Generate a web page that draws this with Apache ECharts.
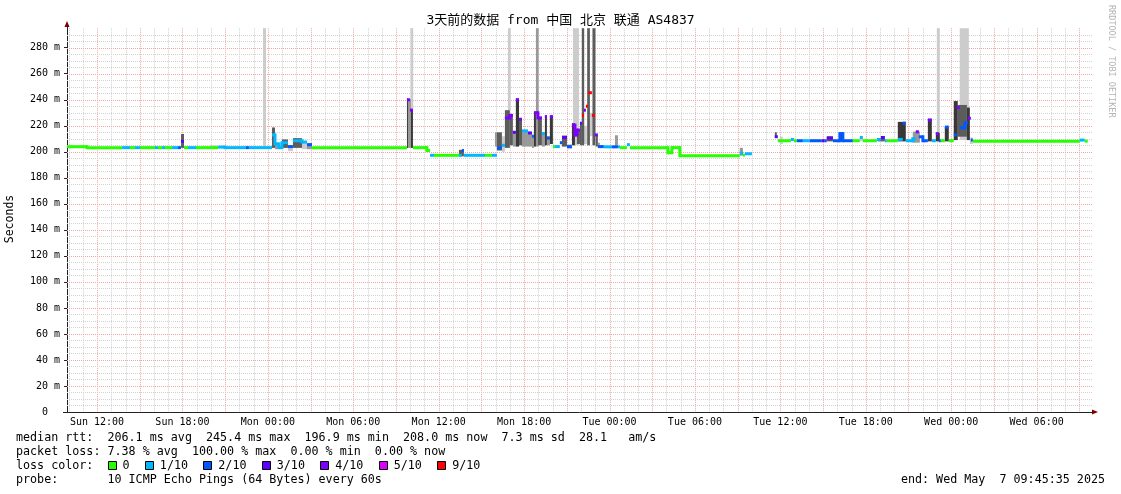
<!DOCTYPE html>
<html><head><meta charset="utf-8">
<script src="https://cdn.jsdelivr.net/npm/echarts@6/dist/echarts.min.js"></script>
<style>html,body{margin:0;padding:0;background:#fff}#c{width:1121px;height:494px}</style>
</head><body><div id="c"></div>
<script>
// ---------- data (time in hours since Sun 00:00, values in ms) ----------
const DAYS = ['Sun', 'Mon', 'Tue', 'Wed'];
const X_MIN = 9.89, X_MAX = 81.89;
const Y_MAX = 295;
const xLabelHours = [12, 18, 24, 30, 36, 42, 48, 54, 60, 66, 72, 78];

const LOSS_LEVELS = [0, 1, 2, 3, 4, 5, 9];
const LOSS_COLORS = ['#26ff00', '#00b8ff', '#0059ff', '#5e00ff', '#7e00ff', '#dd00ff', '#ff0000'];
const LOSS_LABELS = ['0', '1/10', '2/10', '3/10', '4/10', '5/10', '9/10'];

// median rtt step segments: medT[i]..medT[i+1] at medV[i], loss medL[i]
const medT = [9.89, 11.30, 13.76, 14.32, 14.67, 15.02, 16.07, 16.28, 16.57, 16.78, 17.27, 17.69, 17.90, 18.11, 18.39, 18.95, 20.50, 20.99, 22.46, 22.67, 24.29, 24.50, 24.78, 24.99, 25.41, 25.76, 26.40, 26.75, 27.10, 33.77, 33.98, 34.19, 35.17, 35.39, 35.67, 37.42, 37.63, 37.77, 39.25, 39.74, 40.09, 40.44, 40.65, 41.00, 41.21, 41.42, 41.64, 41.85, 42.27, 42.55, 42.69, 42.97, 43.25, 43.46, 43.60, 43.81, 44.02, 44.16, 44.51, 44.66, 45.01, 45.36, 45.57, 45.71, 45.92, 46.06, 46.20, 46.34, 46.48, 46.76, 46.97, 47.18, 47.60, 48.17, 48.59, 48.73, 49.22, 49.43, 52.10, 52.38, 52.94, 57.15, 57.37, 57.51, 58.00, 59.61, 59.82, 60.74, 60.95, 61.16, 61.58, 62.07, 62.91, 63.12, 63.26, 63.69, 64.18, 64.39, 65.09, 65.58, 65.79, 66.78, 67.06, 67.34, 67.48, 68.25, 68.60, 68.81, 69.30, 69.51, 69.73, 70.01, 70.36, 70.64, 70.92, 71.13, 71.27, 71.55, 71.83, 72.18, 72.39, 72.60, 72.96, 73.17, 73.38, 73.52, 81.03, 81.38, 81.59];
const medV = [203.9, 203.2, 203.2, 203.2, 203.2, 203.2, 203.2, 203.2, 203.2, 203.2,
  203.2, 203.2, 208.0, 203.2, 203.2, 203.2, 203.6, 203.2, 203.2, 203.2,
  213.0, 206.0, 203.2, 207.0, 204.0, 208.5, 207.5, 205.5, 203.2, 240.0,
  232.0, 203.2, 201.0, 197.3, 197.3, 197.3, 201.0, 197.3, 197.3, 197.3,
  203.0, 205.0, 226.0, 228.0, 215.0, 240.0, 225.0, 216.0, 214.5, 212.0,
  230.0, 226.0, 214.0, 227.0, 210.5, 227.0, 204.0, 204.0, 207.0, 211.0,
  204.0, 220.5, 213.0, 216.7, 222.0, 228.0, 232.0, 235.0, 245.4, 228.0,
  213.0, 204.0, 203.8, 203.8, 203.8, 203.2, 205.5, 203.2, 199.3, 203.2,
  197.0, 199.0, 197.5, 198.5, null, 211.6, 208.5, 209.5, 208.5, 208.5,
  208.5, 208.5, 208.5, 208.5, 210.5, 208.5, 214.0, 208.5, 208.5, 211.0,
  208.5, 209.5, 211.0, 208.5, 208.5, 209.5, 222.0, 208.5, 210.0, 215.4,
  211.5, 208.5, 224.5, 208.5, 214.0, 208.5, 208.5, 219.0, 208.5, 213.0,
  234.0, 218.5, 222.4, 225.8, 209.0, 208.2, 209.0, 208.2];
const medL = [0, 0, 1, 0, 1, 0, 1, 0, 1, 0, 1, 2, 3, 0, 1, 0, 1, 1, 2, 1,
  1, 1, 1, 1, 2, 1, 1, 2, 0, 4, 4, 0, 0, 1, 0, 1, 2, 1, 0, 1,
  2, 1, 4, 4, 3, 4, 4, 1, 3, 2, 4, 4, 1, 4, 2, 4, 0, 1, 2, 3,
  2, 4, 4, 4, 3, 9, 4, 9, 9, 9, 4, 2, 1, 2, 1, 0, 1, 0, 0, 0,
  0, 1, 0, 1, 0, 3, 0, 1, 0, 2, 1, 2, 3, 2, 3, 2, 2, 2, 0, 1,
  0, 1, 3, 1, 0, 1, 2, 1, 1, 4, 2, 2, 4, 1, 4, 2, 0, 2, 0, 2,
  4, 2, 2, 4, 2, 0, 1, 0];

// smoke (ping spread) blocks
const smkT0 = [17.90, 23.66, 24.29, 24.50, 24.99, 25.41, 25.76, 26.40, 26.75, 19.94, 33.77, 33.84, 34.05, 34.03, 37.42, 39.95, 40.09, 40.44, 40.65, 40.86, 41.00, 41.21, 41.42, 41.64, 41.85, 42.27, 42.55, 42.69, 42.83, 42.97, 43.25, 43.46, 43.60, 43.81, 44.66, 45.01, 45.36, 45.43, 45.71, 45.92, 46.06, 46.20, 46.43, 46.62, 46.80, 47.04, 47.18, 48.38, 57.15, 59.61, 59.96, 63.26, 64.18, 65.58, 66.85, 68.25, 69.30, 70.36, 70.92, 70.99, 71.55, 72.18, 72.60, 72.46, 73.10, 73.31];
const smkT1 = [18.11, 23.87, 24.50, 24.78, 25.41, 25.76, 26.40, 26.75, 27.10, 20.43, 33.84, 34.05, 34.19, 34.21, 37.77, 40.09, 40.44, 40.65, 41.00, 41.05, 41.21, 41.42, 41.64, 41.85, 42.27, 42.55, 42.69, 42.83, 43.02, 43.25, 43.46, 43.60, 43.81, 44.02, 45.01, 45.36, 45.57, 45.85, 45.92, 46.06, 46.22, 46.41, 46.62, 46.83, 47.01, 47.18, 47.32, 48.59, 57.37, 59.75, 60.17, 63.69, 64.39, 65.79, 67.34, 68.81, 69.80, 70.64, 71.20, 71.20, 71.83, 72.46, 73.24, 73.10, 73.31, 73.52];
const smkLo = [203, 204, 203, 202, 203, 200.5, 203, 202, 202, 203, 203, 203, 203, 233, 196.5, 204, 201, 200, 203, 232, 205, 204, 204, 205, 204, 204, 203, 204, 204, 205, 204, 205, 205, 206, 204, 202, 205, 205, 206, 205, 205, 206, 205, 212, 205, 204, 203, 204, 197, 211, 206, 208, 208, 208, 208, 208, 207, 208, 208, 214.5, 208, 209, 209, 211.6, 209, 206];
const smkHi = [213.7, 295, 218.7, 207, 209.5, 205, 210.5, 207.5, 206.5, 205, 241, 240.5, 233, 295, 201.5, 215, 215, 212, 232, 295, 229, 216, 241, 226, 217, 215, 212, 231, 295, 227, 215, 228, 212, 228, 212.5, 206, 222, 295, 217, 222, 295, 220, 295, 230, 295, 213, 207, 212.7, 203, 215, 211.6, 212, 214.5, 211, 210.5, 223, 215.5, 225, 214.5, 295, 219, 239, 295, 236, 234, 211];
const smkTone = [2, 0, 2, 1, 2, 0, 2, 0, 1, 0, 3, 1, 3, 0, 2, 1, 2, 0, 2, 0, 2, 1, 3, 2, 1, 1, 1, 3, 1, 2, 1, 3, 1, 3, 2, 0, 3, 0, 2, 2, 2, 0, 2, 0, 2, 2, 1, 1, 1, 2, 0, 2, 3, 0, 2, 3, 1, 3, 3, 0, 3, 3, 0, 2, 3, 0];
const SMOKE_COLORS = ['#cccccc', '#999999', '#5c5c5c', '#383838'];

// statistics shown below the graph
const RTT_STATS = [206.1, 245.4, 196.9, 208.0]; // avg, max, min, now (ms)
const RTT_SD = 7.3;
const AM_S = 28.1;
const LOSS_STATS = [7.38, 100.00, 0.00, 0.00];   // avg, max, min, now (%)
const TITLE = '3天前的数据 from 中国 北京 联通 AS4837';
const PROBE = '10 ICMP Echo Pings (64 Bytes) every 60s';
const END_TEXT = 'end: Wed May  7 09:45:35 2025';

// ---------- build ----------
const MONO = "'DejaVu Sans Mono', monospace";
const TITLE_FONT = "'DejaVu Sans Mono', 'Noto Sans CJK SC', monospace";
const MINOR = '#d2d2d2', MAJOR = '#f2a6a6';

const medData = [];
const connData = [];
for (let i = 0; i < medV.length; i++) {
  if (medV[i] == null) continue;
  const li = LOSS_LEVELS.indexOf(medL[i]);
  medData.push([medT[i], medT[i + 1], medV[i], li]);
  // short vertical step joins within the same loss class (small steps only)
  if (i + 1 < medV.length && medV[i + 1] != null && medL[i + 1] === medL[i] &&
      medV[i + 1] !== medV[i] && Math.abs(medV[i + 1] - medV[i]) < 8) {
    connData.push([medT[i + 1], Math.min(medV[i], medV[i + 1]), Math.max(medV[i], medV[i + 1]), li]);
  }
}
const smkData = smkT0.map((t, i) => [t, smkT1[i], smkLo[i], smkHi[i], smkTone[i]])
  .sort((a, b) => a[4] - b[4]);

const vGrid = [];
for (let h = Math.ceil(X_MIN); h <= X_MAX; h++) vGrid.push([h, 0, h % 3 === 0 ? 1 : 0]);
const hGrid = [];
for (let v = 5; v < Y_MAX; v += 5) hGrid.push([X_MIN, v, v % 20 === 0 ? 1 : 0]);

const f1 = v => v.toFixed(1), f2 = v => v.toFixed(2);
const line1 = `median rtt:  ${f1(RTT_STATS[0])} ms avg  ${f1(RTT_STATS[1])} ms max  ${f1(RTT_STATS[2])} ms min  ${f1(RTT_STATS[3])} ms now  ${f1(RTT_SD)} ms sd  ${f1(AM_S)}   am/s`;
const line2 = `packet loss: ${f2(LOSS_STATS[0])} % avg  ${f2(LOSS_STATS[1])} % max  ${f2(LOSS_STATS[2])} % min  ${f2(LOSS_STATS[3])} % now`;

const LEG_FONT = '11.7px ' + MONO;
const CH = 7.04;
const graphics = [
  {type: 'text', x: 560.5, y: 21, style: {text: TITLE, font: '13px ' + TITLE_FONT, fill: '#000', align: 'center', verticalAlign: 'middle'}},
  {type: 'text', x: 10, y: 219, rotation: Math.PI / 2, style: {text: 'Seconds', font: '11.5px ' + MONO, fill: '#000', align: 'center', verticalAlign: 'middle'}},
  {type: 'text', x: 1111, y: 5, rotation: -Math.PI / 2, style: {text: 'RRDTOOL / TOBI OETIKER', font: '8.5px ' + MONO, fill: '#b4b4b4', align: 'left', verticalAlign: 'middle'}},
  {type: 'text', x: 16, y: 438, style: {text: line1, font: LEG_FONT, fill: '#000', align: 'left', verticalAlign: 'middle'}},
  {type: 'text', x: 16, y: 452, style: {text: line2, font: LEG_FONT, fill: '#000', align: 'left', verticalAlign: 'middle'}},
  {type: 'text', x: 16, y: 466, style: {text: 'loss color:', font: LEG_FONT, fill: '#000', align: 'left', verticalAlign: 'middle'}},
  {type: 'text', x: 16, y: 480, style: {text: 'probe:       ' + PROBE, font: LEG_FONT, fill: '#000', align: 'left', verticalAlign: 'middle'}},
  {type: 'text', x: 1105, y: 480, style: {text: END_TEXT, font: LEG_FONT, fill: '#000', align: 'right', verticalAlign: 'middle'}},
  // axis arrows and small axis extensions
  {type: 'polygon', shape: {points: [[64.5, 27], [69.5, 27], [67, 21]]}, style: {fill: '#7f0000'}},
  {type: 'line', shape: {x1: 67.5, y1: 27, x2: 67.5, y2: 29}, style: {stroke: '#222', lineWidth: 1}},
  {type: 'line', shape: {x1: 63, y1: 412.5, x2: 68, y2: 412.5}, style: {stroke: '#222', lineWidth: 1}},
  {type: 'polygon', shape: {points: [[1092, 409.5], [1092, 414.5], [1098, 412]]}, style: {fill: '#7f0000'}}
];
let bx = 16 + 13 * CH;
LOSS_LABELS.forEach((lab, i) => {
  graphics.push({type: 'rect', shape: {x: Math.round(bx) + 0.5, y: 461.5, width: 8, height: 8}, style: {fill: LOSS_COLORS[i], stroke: '#000', lineWidth: 1}});
  graphics.push({type: 'text', x: bx + 15, y: 466, style: {text: lab, font: LEG_FONT, fill: '#000', align: 'left', verticalAlign: 'middle'}});
  bx += 15 + lab.length * CH + 15.3;
});

const chart = echarts.init(document.getElementById('c'), null, {renderer: 'canvas', width: 1121, height: 494});
chart.setOption({
  animation: false,
  backgroundColor: '#ffffff',
  grid: {left: 67, right: 29, top: 28.2, bottom: 82, containLabel: false, outerBoundsMode: 'none'},
  xAxis: {
    type: 'value', min: X_MIN, max: X_MAX,
    axisLine: {show: true, lineStyle: {color: '#222', width: 1}},
    axisTick: {show: false},
    splitLine: {show: false},
    axisLabel: {
      customValues: xLabelHours, margin: 5, color: '#000', fontSize: 10, fontFamily: MONO,
      formatter: v => DAYS[Math.floor(v / 24)] + ' ' + String(v % 24).padStart(2, '0') + ':00'
    }
  },
  yAxis: {
    type: 'value', min: 0, max: Y_MAX, interval: 20,
    axisLine: {show: true, lineStyle: {color: '#222', width: 1}},
    axisTick: {show: true, length: 3, lineStyle: {color: '#222'}},
    splitLine: {show: false},
    axisLabel: {
      showMaxLabel: false, margin: 7, color: '#000', fontSize: 10, fontFamily: MONO,
      formatter: v => v === 0 ? '0  ' : v + ' m'
    }
  },
  graphic: graphics,
  series: [
    {
      type: 'custom', name: 'vgrid', silent: true, z: 1, data: vGrid, encode: {x: 0, y: 1},
      renderItem: (p, api) => {
        const a = api.coord([api.value(0), 0]), b = api.coord([api.value(0), Y_MAX]);
        const x = Math.round(a[0]) + 0.5;
        return {type: 'line', shape: {x1: x, y1: b[1], x2: x, y2: a[1]},
          style: {stroke: api.value(2) ? MAJOR : MINOR, lineWidth: 1, lineDash: [1, 1]}};
      }
    },
    {
      type: 'custom', name: 'hgrid', silent: true, z: 1, data: hGrid, encode: {x: 0, y: 1},
      renderItem: (p, api) => {
        const a = api.coord([X_MIN, api.value(1)]), b = api.coord([X_MAX, api.value(1)]);
        const y = Math.round(a[1]) + 0.5;
        return {type: 'line', shape: {x1: a[0], y1: y, x2: b[0], y2: y},
          style: {stroke: api.value(2) ? MAJOR : MINOR, lineWidth: 1, lineDash: [1, 1]}};
      }
    },
    {
      type: 'custom', name: 'smoke', silent: true, z: 2, data: smkData, encode: {x: [0, 1], y: [2, 3]},
      renderItem: (p, api) => {
        const a = api.coord([api.value(0), api.value(3)]), b = api.coord([api.value(1), api.value(2)]);
        return {type: 'rect', shape: {x: a[0], y: a[1], width: b[0] - a[0], height: b[1] - a[1]},
          style: {fill: SMOKE_COLORS[api.value(4)]}};
      }
    },
    {
      type: 'custom', name: 'median steps', silent: true, z: 3, data: connData, encode: {x: 0, y: [1, 2]},
      renderItem: (p, api) => {
        const a = api.coord([api.value(0), api.value(2)]), b = api.coord([api.value(0), api.value(1)]);
        return {type: 'rect', shape: {x: a[0] - 1.5, y: a[1] - 1.5, width: 3, height: b[1] - a[1] + 3},
          style: {fill: LOSS_COLORS[api.value(3)]}};
      }
    },
    {
      type: 'custom', name: 'median rtt', silent: true, z: 3, data: medData, encode: {x: [0, 1], y: 2},
      renderItem: (p, api) => {
        const a = api.coord([api.value(0), api.value(2)]), b = api.coord([api.value(1), api.value(2)]);
        return {type: 'rect', shape: {x: a[0], y: a[1] - 1.5, width: b[0] - a[0], height: 3},
          style: {fill: LOSS_COLORS[api.value(3)]}};
      }
    }
  ]
});
</script></body></html>
